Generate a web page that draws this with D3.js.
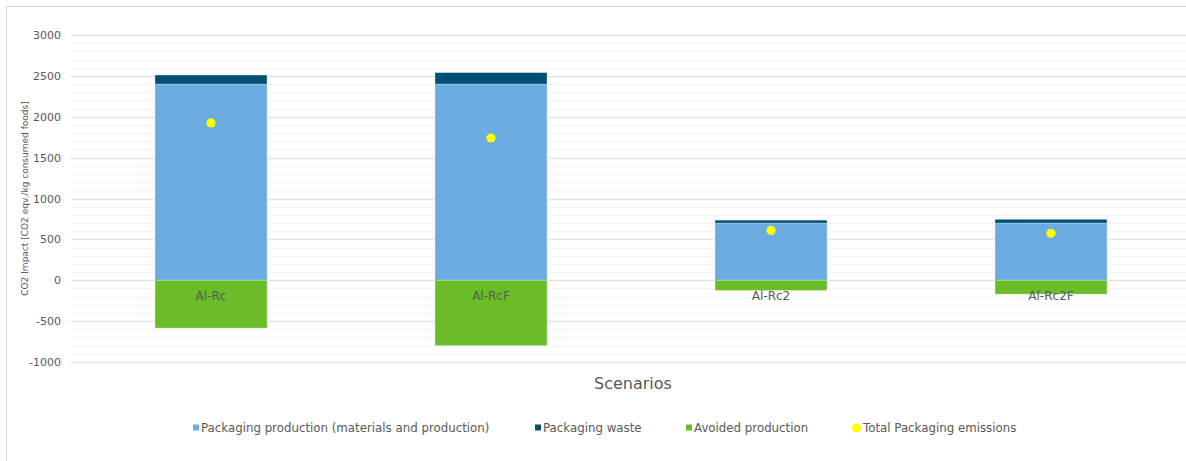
<!DOCTYPE html>
<html>
<head>
<meta charset="utf-8">
<script src="https://cdn.jsdelivr.net/npm/d3@7"></script>
<style>
  html, body { margin: 0; padding: 0; background: #fff; }
  svg { display: block; font-family: "DejaVu Sans", Verdana, sans-serif; }
</style>
</head>
<body>
<svg id="chart" width="1186" height="461"></svg>
<script>
// Scenario categories and stacked components (CO2 eqv. per kg consumed foods)
const scenarios = ["Al-Rc", "Al-RcF", "Al-Rc2", "Al-Rc2F"];
const packagingProduction = [2400, 2400, 700, 700];
const packagingWaste = [110, 140, 35, 45];
const avoidedProduction = [-585, -800, -125, -170];
const totalEmissions = [1925, 1740, 610, 575];
const yTicks = [-1000, -500, 0, 500, 1000, 1500, 2000, 2500, 3000];

const seriesNames = [
  "Packaging production (materials and production)",
  "Packaging waste",
  "Avoided production",
  "Total Packaging emissions"
];
const colors = ["#6aace2", "#005073", "#6abd28", "#ffff00"];

const svg = d3.select("#chart");
const W = 1186, H = 461;
const plot = { left: 71, right: 1191, top: 35, bottom: 362 };

// outer chart frame
svg.append("rect")
  .attr("x", 6.5).attr("y", 6.5)
  .attr("width", W + 20).attr("height", H + 20)
  .attr("fill", "#fff").attr("stroke", "#d9d9d9").attr("stroke-width", 1);

const x = d3.scaleBand().domain(scenarios).range([plot.left, plot.right]).paddingInner(0.6).paddingOuter(0.3);
const y = d3.scaleLinear().domain([-1000, 3000]).range([plot.bottom, plot.top]);

// minor gridlines every 100
const grid = svg.append("g");
grid.selectAll("line.minor")
  .data(d3.range(-1000, 3001, 100).filter(v => v % 500 !== 0))
  .join("line")
  .attr("x1", plot.left).attr("x2", plot.right)
  .attr("y1", d => Math.round(y(d)) + 0.5).attr("y2", d => Math.round(y(d)) + 0.5)
  .attr("stroke", "#f3f3f3").attr("stroke-width", 1);
// major gridlines every 500
grid.selectAll("line.major")
  .data(yTicks)
  .join("line")
  .attr("x1", plot.left).attr("x2", plot.right)
  .attr("y1", d => Math.round(y(d)) + 0.5).attr("y2", d => Math.round(y(d)) + 0.5)
  .attr("stroke", "#e4e4e4").attr("stroke-width", 1.3);

// y axis tick labels (plain hyphen for negatives)
const yAxis = d3.axisLeft(y).tickValues(yTicks).tickSize(0).tickPadding(10).tickFormat(d => String(d));
const ya = svg.append("g").attr("transform", `translate(${plot.left},0)`).call(yAxis);
ya.select(".domain").remove();
ya.selectAll("text").attr("fill", "#595959").style("font-size", "11px")
  .style("font-family", "'DejaVu Sans', Verdana, sans-serif");

// stacked bars
const stacks = [
  { vals: packagingProduction, base: () => 0, color: colors[0] },
  { vals: packagingWaste, base: i => packagingProduction[i], color: colors[1] },
  { vals: avoidedProduction, base: () => 0, color: colors[2] }
];
stacks.forEach(s => {
  svg.append("g").selectAll("rect")
    .data(scenarios)
    .join("rect")
    .attr("x", d => x(d))
    .attr("width", x.bandwidth())
    .attr("y", (d, i) => y(Math.max(s.base(i), s.base(i) + s.vals[i])))
    .attr("height", (d, i) => Math.abs(y(s.base(i)) - y(s.base(i) + s.vals[i])))
    .attr("fill", s.color)
    .attr("stroke", "rgba(255,255,255,0.35)").attr("stroke-width", 0.8);
});

// category labels sit at the zero line
const xAxis = d3.axisBottom(x).tickSize(0).tickPadding(11);
const xa = svg.append("g").attr("transform", `translate(0,${y(0)})`).call(xAxis);
xa.select(".domain").remove();
xa.selectAll("text").attr("fill", "#595959").style("font-size", "12px")
  .style("font-family", "'DejaVu Sans', Verdana, sans-serif");

// total emission markers
svg.append("g").selectAll("circle")
  .data(scenarios)
  .join("circle")
  .attr("cx", d => x(d) + x.bandwidth() / 2)
  .attr("cy", (d, i) => y(totalEmissions[i]))
  .attr("r", 4.6)
  .attr("fill", colors[3]);

// axis titles
svg.append("text")
  .attr("transform", `translate(28,${(plot.top + plot.bottom) / 2}) rotate(-90)`)
  .attr("text-anchor", "middle")
  .attr("fill", "#595959").style("font-size", "9px")
  .text("CO2 Impact [CO2 eqv./kg consumed foods]");

svg.append("text")
  .attr("x", 633).attr("y", 389)
  .attr("text-anchor", "middle")
  .attr("fill", "#595959").style("font-size", "16px")
  .text("Scenarios");

// legend
const legendX = [193, 535, 686, 853];
const legend = svg.append("g");
seriesNames.forEach((name, i) => {
  const g = legend.append("g").attr("transform", `translate(${legendX[i]},428)`);
  if (i < 3) {
    g.append("rect").attr("x", 0).attr("y", -3.5).attr("width", 6).attr("height", 6).attr("fill", colors[i]);
  } else {
    g.append("circle").attr("cx", 3.5).attr("cy", 0).attr("r", 4.5).attr("fill", colors[i]);
  }
  g.append("text").attr("x", i < 3 ? 8 : 10).attr("y", 4)
    .attr("fill", "#595959").style("font-size", "11.8px")
    .text(name);
});
</script>
</body>
</html>
